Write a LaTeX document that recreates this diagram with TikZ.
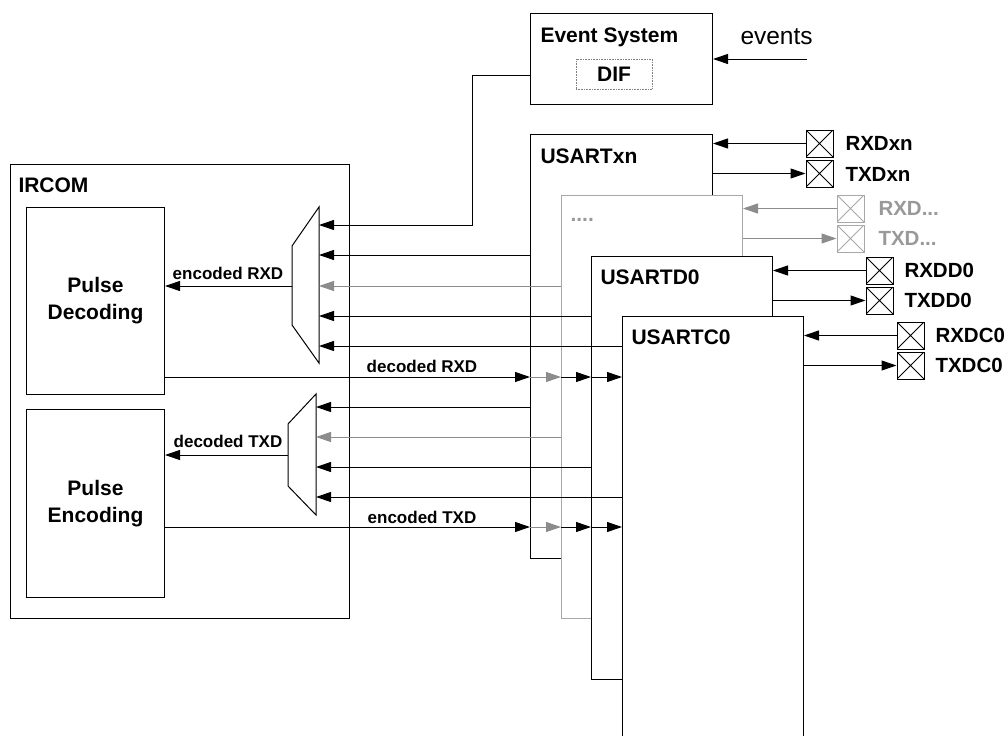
\documentclass[tikz,border=0pt]{standalone}
\usepackage{fontspec}
\setmainfont{Liberation Sans}
\usetikzlibrary{arrows.meta}
\definecolor{boxgray}{gray}{0.66}
\definecolor{arrgray}{gray}{0.55}
\definecolor{txtgray}{gray}{0.6}
\begin{document}
\begin{tikzpicture}[x=1pt,y=-1pt,line width=1pt,
  big/.style={font=\fontsize{21}{27}\selectfont\bfseries, inner sep=0pt},
  padlbl/.style={font=\fontsize{20.5}{25}\selectfont\bfseries, inner sep=0pt, anchor=base west},
  small/.style={font=\fontsize{17}{20}\selectfont\bfseries, inner sep=0pt},
  blk/.style={draw, fill=white, inner sep=0pt, anchor=north west},
  arr/.style={-{Triangle[length=15pt,width=10pt]}},
  garr/.style={arr, arrgray},
  pad/.style={draw=#1, fill=white, minimum size=27pt, inner sep=0pt,
    path picture={\draw[#1, line width=0.8pt]
      (path picture bounding box.north west) -- (path picture bounding box.south east)
      (path picture bounding box.south west) -- (path picture bounding box.north east);}},
  pad/.default=black]
\useasboundingbox (0,0) rectangle (1005,736);

% IRCOM
\node[blk, minimum width=339pt, minimum height=454pt] (ircom) at (10,164) {};
\node[big, anchor=base west] (tircom) at (18,192) {IRCOM};
\node[blk, minimum width=138pt, minimum height=187pt] (pd) at (26,207) {};
\node[big, align=center] (tpd) at (pd.center) {Pulse\\Decoding};
\node[blk, minimum width=138pt, minimum height=188pt] (pe) at (26,409) {};
\node[big, align=center] (tpe) at (pe.center) {Pulse\\Encoding};

% muxes
\draw (319,207) -- (319,363) -- (292,325) -- (292,246) -- cycle;
\draw (316,394) -- (316,515) -- (288,486) -- (288,424) -- cycle;
\coordinate (m1out) at (292,286);
\coordinate (m1a) at (319,225);
\coordinate (m1b) at (319,255);
\coordinate (m1c) at (319,286);
\coordinate (m1d) at (319,316);
\coordinate (m1e) at (319,346);
\coordinate (m2out) at (288,455);
\coordinate (m2a) at (316,407);
\coordinate (m2b) at (316,437);
\coordinate (m2c) at (316,467);
\coordinate (m2d) at (316,497);

% Event system
\node[blk, minimum width=182pt, minimum height=91pt] (ev) at (530,13) {};
\node[big, anchor=base west] (tev) at (540,42) {Event System};
\node[draw=gray, densely dotted, line width=0.6pt, minimum width=76pt, minimum height=30pt, inner sep=0pt] (dif) at (614,74) {};
\node[big, anchor=base] (tdif) at (614,81) {DIF};
\node[font=\fontsize{24.5}{28}\selectfont, anchor=base west, inner sep=0pt] (tevents) at (740,45) {events};
\coordinate (evsrc) at (807,59);
\draw[arr] (evsrc) -- (ev.east |- evsrc);
\coordinate (evturn) at (472,75);
\draw[arr] (ev.west |- evturn) -- (evturn) |- (m1a);

% USART boxes
\node[blk, minimum width=182pt, minimum height=424pt] (uxn) at (530,134) {};
\node[big, anchor=base west] (tuxn) at (540,163) {USARTxn};
\node[blk, draw=boxgray, minimum width=181pt, minimum height=423pt] (ug) at (561,195) {};
\node[big, anchor=base west, txtgray] (tug) at (570,221) {....};
\node[blk, minimum width=181pt, minimum height=423pt] (ud) at (591,256) {};
\node[big, anchor=base west] (tud) at (600,284) {USARTD0};
\node[blk, minimum width=181pt, minimum height=430pt] (uc) at (622,316) {};
\node[big, anchor=base west] (tuc) at (631,344) {USARTC0};

% inputs to muxes
\draw[arr] (uxn.west |- m1b) -- (m1b);
\draw[garr] (ug.west |- m1c) -- (m1c);
\draw[arr] (ud.west |- m1d) -- (m1d);
\draw[arr] (uc.west |- m1e) -- (m1e);
\draw[arr] (uxn.west |- m2a) -- (m2a);
\draw[garr] (ug.west |- m2b) -- (m2b);
\draw[arr] (ud.west |- m2c) -- (m2c);
\draw[arr] (uc.west |- m2d) -- (m2d);

% mux outputs
\draw[arr] (m1out) -- (pd.east |- m1out);
\node[small, anchor=base] (terx) at (228,279) {encoded RXD};
\draw[arr] (m2out) -- (pe.east |- m2out);
\node[small, anchor=base] (tdtx) at (228,447) {decoded TXD};

% decoded RXD / encoded TXD chains
\coordinate (drx) at (0,377);
\coordinate (etx) at (0,527);
\draw[arr] (pd.east |- drx) -- (uxn.west |- drx);
\draw[garr] (uxn.west |- drx) -- (ug.west |- drx);
\draw[arr] (ug.west |- drx) -- (ud.west |- drx);
\draw[arr] (ud.west |- drx) -- (uc.west |- drx);
\node[small, anchor=base] (tdrx) at (422,372) {decoded RXD};
\draw[arr] (pe.east |- etx) -- (uxn.west |- etx);
\draw[garr] (uxn.west |- etx) -- (ug.west |- etx);
\draw[arr] (ug.west |- etx) -- (ud.west |- etx);
\draw[arr] (ud.west |- etx) -- (uc.west |- etx);
\node[small, anchor=base] (tetx) at (422,523) {encoded TXD};

% pads
\node[pad] (prxn) at (819.5,143.5) {};
\node[pad] (ptxn) at (819.5,173.5) {};
\node[padlbl] (lrxn) at (845,150) {RXDxn};
\node[padlbl] (ltxn) at (845,181) {TXDxn};
\draw[arr] (prxn) -- (uxn.east |- prxn);
\draw[arr] (uxn.east |- ptxn) -- (ptxn);

\node[pad=boxgray] (prxg) at (850.5,208.5) {};
\node[pad=boxgray] (ptxg) at (850.5,238.5) {};
\node[padlbl, txtgray] (lrxg) at (878,215) {RXD...};
\node[padlbl, txtgray] (ltxg) at (878,245) {TXD...};
\draw[garr] (prxg) -- (ug.east |- prxg);
\draw[garr] (ug.east |- ptxg) -- (ptxg);

\node[pad] (prxd) at (879.5,270.5) {};
\node[pad] (ptxd) at (879.5,300.5) {};
\node[padlbl] (lrxd) at (904,277) {RXDD0};
\node[padlbl] (ltxd) at (904,307) {TXDD0};
\draw[arr] (prxd) -- (ud.east |- prxd);
\draw[arr] (ud.east |- ptxd) -- (ptxd);

\node[pad] (prxc) at (910.5,335.5) {};
\node[pad] (ptxc) at (910.5,365.5) {};
\node[padlbl] (lrxc) at (935,342) {RXDC0};
\node[padlbl] (ltxc) at (935,372) {TXDC0};
\draw[arr] (prxc) -- (uc.east |- prxc);
\draw[arr] (uc.east |- ptxc) -- (ptxc);
\end{tikzpicture}
\end{document}
